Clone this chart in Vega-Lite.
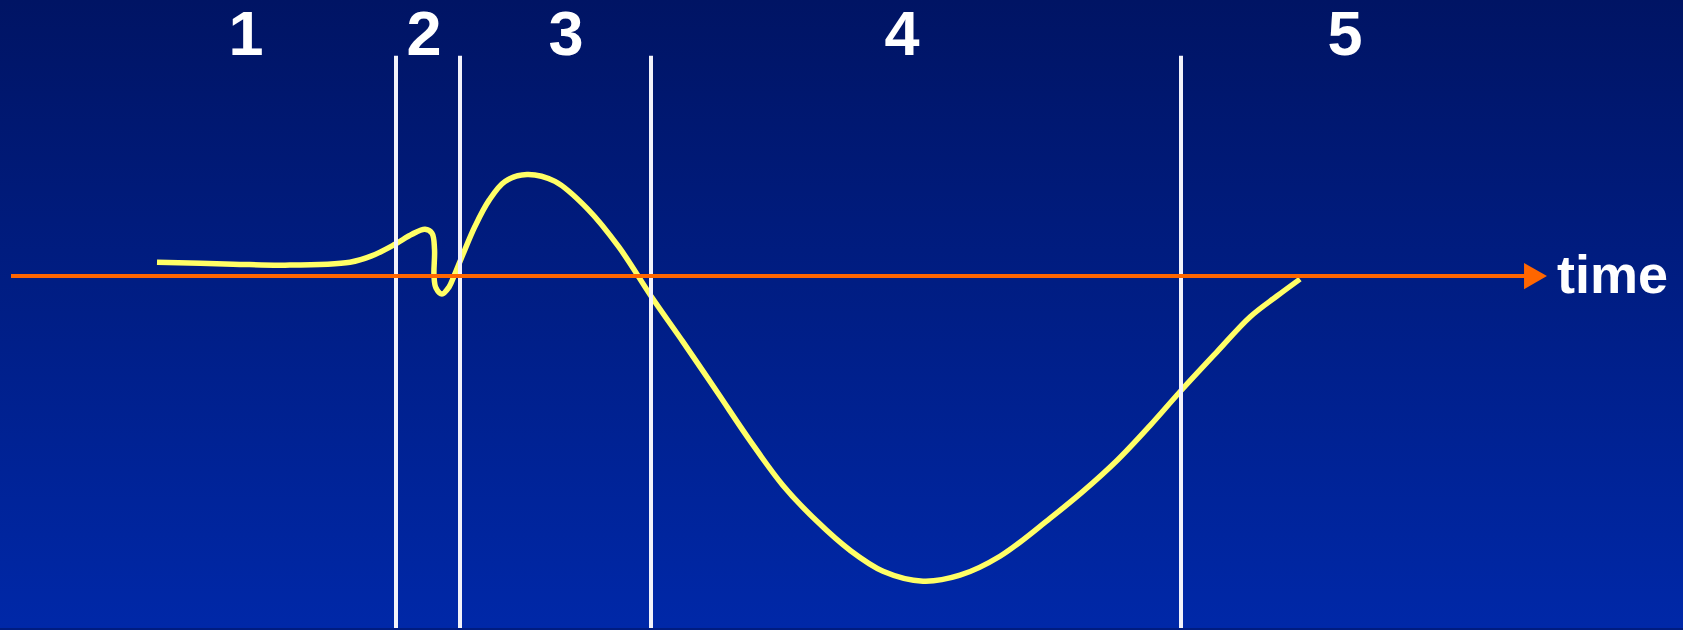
{
  "$schema": "https://vega.github.io/schema/vega-lite/v6.json",
  "width": 1683,
  "height": 630,
  "padding": 0,
  "autosize": {"type": "fit", "contains": "padding"},
  "background": "#001c80",
  "config": {"view": {"stroke": null}},
  "layer": [
    {
      "data": {"values": [{"x0": 0, "x1": 1683, "y0": -353, "y1": 277}]},
      "mark": {
        "type": "rect",
        "fill": {
          "gradient": "linear",
          "x1": 0, "y1": 0, "x2": 0, "y2": 1,
          "stops": [
            {"offset": 0, "color": "#001464"},
            {"offset": 1, "color": "#0028a8"}
          ]
        },
        "strokeWidth": 0
      },
      "encoding": {
        "x": {"field": "x0", "type": "quantitative", "axis": null, "scale": {"domain": [0, 1683], "nice": false, "zero": false}},
        "x2": {"field": "x1"},
        "y": {"field": "y0", "type": "quantitative", "axis": null, "scale": {"domain": [-353, 277], "nice": false, "zero": false}},
        "y2": {"field": "y1"}
      }
    },
    {
      "data": {"values": [
        {"i": 1, "t": 157, "v": 14},
        {"i": 2, "t": 233, "v": 12},
        {"i": 3, "t": 285, "v": 11},
        {"i": 4, "t": 350, "v": 14},
        {"i": 5, "t": 371, "v": 20},
        {"i": 6, "t": 395, "v": 32},
        {"i": 7, "t": 412, "v": 42},
        {"i": 8, "t": 425, "v": 47},
        {"i": 9, "t": 432, "v": 43},
        {"i": 10, "t": 434.5, "v": 27},
        {"i": 11, "t": 434, "v": 0},
        {"i": 12, "t": 436, "v": -12},
        {"i": 13, "t": 442, "v": -18},
        {"i": 14, "t": 449, "v": -11},
        {"i": 15, "t": 454, "v": 0},
        {"i": 16, "t": 463, "v": 22},
        {"i": 17, "t": 475, "v": 50},
        {"i": 18, "t": 489, "v": 76},
        {"i": 19, "t": 505, "v": 95},
        {"i": 20, "t": 527, "v": 102},
        {"i": 21, "t": 555, "v": 95},
        {"i": 22, "t": 588, "v": 67},
        {"i": 23, "t": 619, "v": 29},
        {"i": 24, "t": 653, "v": -23},
        {"i": 25, "t": 683, "v": -66},
        {"i": 26, "t": 717, "v": -116},
        {"i": 27, "t": 750, "v": -165},
        {"i": 28, "t": 783, "v": -210},
        {"i": 29, "t": 817, "v": -246},
        {"i": 30, "t": 850, "v": -275},
        {"i": 31, "t": 883, "v": -296},
        {"i": 32, "t": 923, "v": -306},
        {"i": 33, "t": 960, "v": -300},
        {"i": 34, "t": 1000, "v": -281},
        {"i": 35, "t": 1050, "v": -243},
        {"i": 36, "t": 1083, "v": -216},
        {"i": 37, "t": 1117, "v": -185},
        {"i": 38, "t": 1150, "v": -150},
        {"i": 39, "t": 1180, "v": -116},
        {"i": 40, "t": 1217, "v": -76},
        {"i": 41, "t": 1250, "v": -41},
        {"i": 42, "t": 1277, "v": -20},
        {"i": 43, "t": 1300, "v": -3}
      ]},
      "mark": {"type": "line", "interpolate": "catmull-rom", "color": "#ffff66", "strokeWidth": 5.5, "strokeCap": "butt"},
      "encoding": {
        "x": {"field": "t", "type": "quantitative"},
        "y": {"field": "v", "type": "quantitative"},
        "order": {"field": "i"}
      }
    },
    {
      "data": {"values": [
        {"t": 396, "top": 221, "bottom": -353},
        {"t": 460, "top": 221, "bottom": -353},
        {"t": 651, "top": 221, "bottom": -353},
        {"t": 1181, "top": 221, "bottom": -353}
      ]},
      "mark": {"type": "rule", "color": "#f2f2fa", "strokeWidth": 4},
      "encoding": {
        "x": {"field": "t", "type": "quantitative"},
        "y": {"field": "top", "type": "quantitative"},
        "y2": {"field": "bottom"}
      }
    },
    {
      "data": {"values": [{"a": 11, "b": 1526, "v": 0}]},
      "mark": {"type": "rule", "color": "#ff6600", "strokeWidth": 4},
      "encoding": {
        "x": {"field": "a", "type": "quantitative"},
        "x2": {"field": "b"},
        "y": {"field": "v", "type": "quantitative"}
      }
    },
    {
      "data": {"values": [{"t": 1535.5, "v": 0}]},
      "mark": {"type": "point", "shape": "triangle-right", "size": 700, "filled": true, "color": "#ff6600", "opacity": 1, "strokeWidth": 0},
      "encoding": {
        "x": {"field": "t", "type": "quantitative"},
        "y": {"field": "v", "type": "quantitative"}
      }
    },
    {
      "data": {"values": [{"t": 1557, "v": -17, "label": "time"}]},
      "mark": {"type": "text", "align": "left", "baseline": "alphabetic", "font": "Liberation Sans", "fontWeight": "bold", "fontSize": 54, "color": "white"},
      "encoding": {
        "x": {"field": "t", "type": "quantitative"},
        "y": {"field": "v", "type": "quantitative"},
        "text": {"field": "label"}
      }
    },
    {
      "data": {"values": [
        {"t": 246, "v": 222, "label": "1"},
        {"t": 424, "v": 222, "label": "2"},
        {"t": 566, "v": 222, "label": "3"},
        {"t": 902, "v": 222, "label": "4"},
        {"t": 1345, "v": 222, "label": "5"}
      ]},
      "mark": {"type": "text", "align": "center", "baseline": "alphabetic", "font": "Liberation Sans", "fontWeight": "bold", "fontSize": 63, "color": "white"},
      "encoding": {
        "x": {"field": "t", "type": "quantitative"},
        "y": {"field": "v", "type": "quantitative"},
        "text": {"field": "label"}
      }
    }
  ]
}
